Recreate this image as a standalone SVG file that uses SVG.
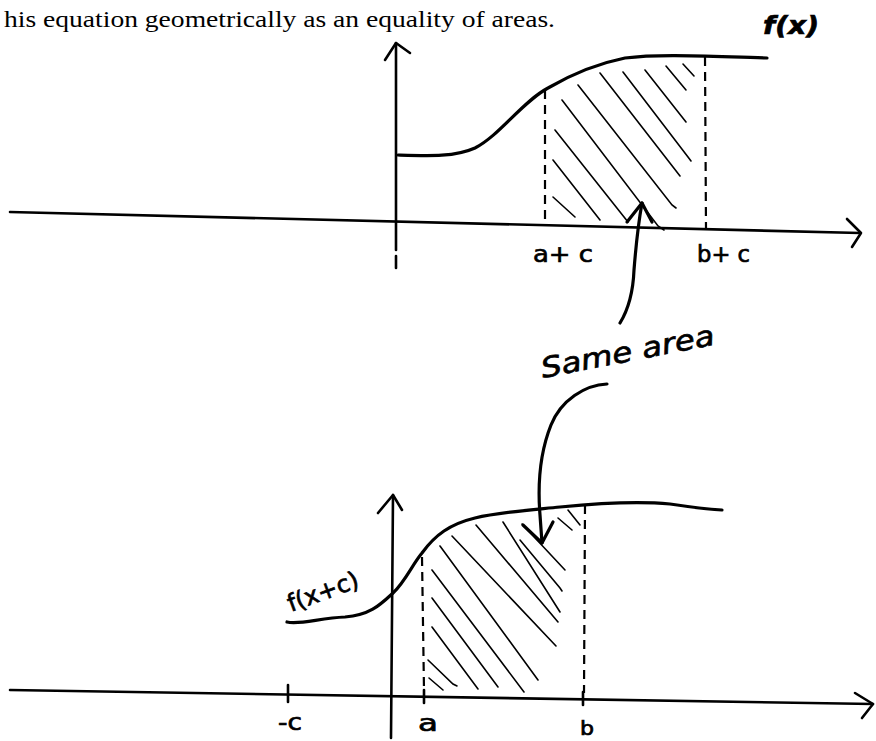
<svg xmlns="http://www.w3.org/2000/svg" width="876" height="741" viewBox="0 0 876 741">
<style>
.ax{fill:none;stroke:#000;stroke-width:2.6;stroke-linecap:round;stroke-linejoin:round}
.cv{fill:none;stroke:#000;stroke-width:3.2;stroke-linecap:round;stroke-linejoin:round}
.ds{fill:none;stroke:#000;stroke-width:2.2;stroke-dasharray:9 6}
.ht{fill:none;stroke:#000;stroke-width:1.6;stroke-linecap:round}
.hw{font-family:"DejaVu Sans","Liberation Sans",sans-serif;fill:#000;stroke:#000;stroke-width:0.7}
.tx{font-family:"Liberation Serif",serif;fill:#000}
</style>
<rect width="876" height="741" fill="#fff"/>
<text class="tx" x="4" y="27" font-size="24" textLength="551" lengthAdjust="spacingAndGlyphs">his equation geometrically as an equality of areas.</text>
<text class="hw" x="763" y="34" font-size="25" font-weight="bold" font-style="italic" textLength="56" lengthAdjust="spacingAndGlyphs">f(x)</text>

<g id="top-graph">
  <path class="ax" d="M10,212 L860,233"/>
  <path class="ax" d="M847,219 L861,233 L852,247"/>
  <path class="ax" d="M396,43 L396,250"/>
  <path class="ax" d="M396,256 L396,268"/>
  <path class="ax" d="M385,60 L396,43 L410,53"/>
  <path class="cv" d="M398,155 C430,156 455,157 475,148 C500,135 522,102 548,88 C572,74 600,63 625,58 C662,53 720,57 767,58"/>
  <path class="ds" d="M545,90 L545,222"/>
  <path class="ds" d="M705,57 L706,229"/>
  <g>
    <path class="ht" d="M553,197 L575,217"/>
    <path class="ht" d="M553,160 L600,220"/>
    <path class="ht" d="M555,130 L628,222"/>
    <path class="ht" d="M562,100 L658,226 L664,230"/>
    <path class="ht" d="M578,85 L672,205 L676,208"/>
    <path class="ht" d="M600,73 L680,176"/>
    <path class="ht" d="M623,72 L688,157 L691,161"/>
    <path class="ht" d="M645,70 L686,122"/>
    <path class="ht" d="M666,66 L686,90"/>
    <path class="ht" d="M683,64 L694,76"/>
  </g>
  <text class="hw" x="533" y="262" font-size="23" textLength="60" lengthAdjust="spacingAndGlyphs">a+ c</text>
  <text class="hw" x="697" y="262" font-size="23" textLength="53" lengthAdjust="spacingAndGlyphs">b+ c</text>
</g>

<g id="same-area">
  <text class="hw" x="0" y="0" font-size="28" font-style="italic" textLength="176" lengthAdjust="spacingAndGlyphs" transform="translate(543,378) rotate(-11)">Same area</text>
  <path class="cv" d="M620,323 C628,310 633,295 634,270 C636,245 638,225 642,203"/>
  <path class="cv" d="M627,222 L642,203 L652,222"/>
  <path class="cv" d="M607,384 C585,385 561,400 551,425 C539,455 538,490 540,515 L542,543"/>
  <path class="cv" d="M523,525 L542,543 L553,522"/>
</g>

<g id="bottom-graph">
  <path class="ax" d="M10,690 L873,704"/>
  <path class="ax" d="M855,693 L873,704 L862,718"/>
  <path class="ax" d="M393,495 L391,738"/>
  <path class="ax" d="M378,513 L393,495 L402,510"/>
  <path class="ax" d="M288,685 L288,702"/>
  <path class="ax" d="M424,690 L424,703"/>
  <path class="ax" d="M583,692 L583,705"/>
  <path class="cv" d="M287,622 C300,625 320,618 345,617 C370,615 380,605 393,593 C405,582 412,565 422,553 C435,535 450,524 475,518 C500,512 530,510 560,507 C600,503 640,501 670,504 C690,507 705,509 722,510"/>
  <path class="ds" d="M422,557 L424,690"/>
  <path class="ds" d="M585,505 L584,693"/>
  <g>
    <path class="ht" d="M429,678 L443,690"/>
    <path class="ht" d="M428,660 L453,684 L457,686"/>
    <path class="ht" d="M432,627 L478,689"/>
    <path class="ht" d="M432,598 L498,687"/>
    <path class="ht" d="M432,570 L524,692"/>
    <path class="ht" d="M440,546 L538,680"/>
    <path class="ht" d="M452,536 L556,646"/>
    <path class="ht" d="M476,525 L558,622" stroke-width="1.1"/>
    <path class="ht" d="M503,522 L560,612"/>
    <path class="ht" d="M522,524 L565,570"/>
    <path class="ht" d="M520,540 L560,588 L562,591"/>
    <path class="ht" d="M558,518 L572,530"/>
    <path class="ht" d="M568,510 L580,525"/>
  </g>
  <text class="hw" x="0" y="0" font-size="24" textLength="74" lengthAdjust="spacingAndGlyphs" transform="translate(291,612) rotate(-20)">f(x+c)</text>
  <text class="hw" x="278" y="730" font-size="23" textLength="24" lengthAdjust="spacingAndGlyphs">-c</text>
  <text class="hw" x="418" y="731" font-size="23" textLength="20" lengthAdjust="spacingAndGlyphs">a</text>
  <text class="hw" x="580" y="735" font-size="19" textLength="14" lengthAdjust="spacingAndGlyphs">b</text>
</g>
</svg>
